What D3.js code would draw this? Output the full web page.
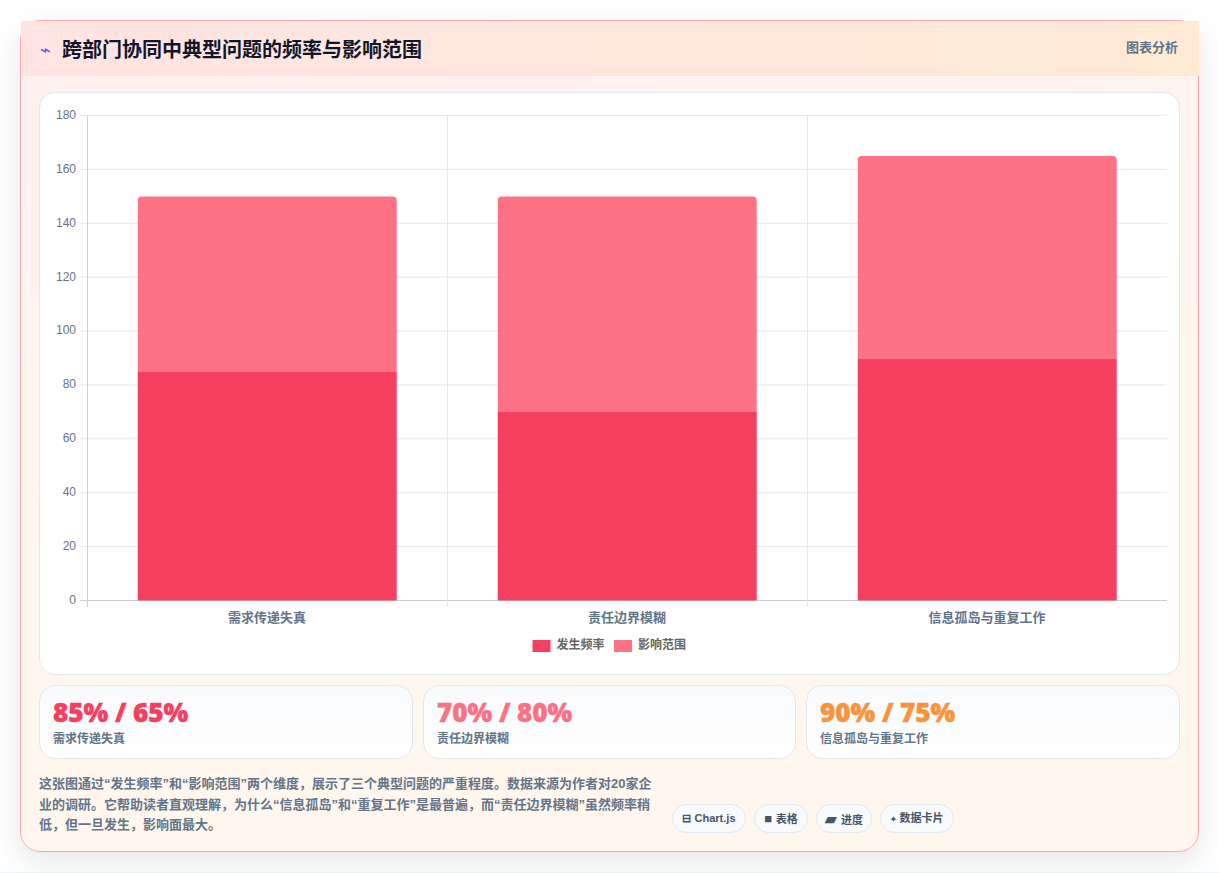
<!DOCTYPE html>
<html lang="zh"><head><meta charset="utf-8">
<script src="https://cdn.jsdelivr.net/npm/d3@7"></script>
<style>
html,body{margin:0;padding:0;width:1219px;height:873px;overflow:hidden;background:linear-gradient(#fff 0,#fff 872px,#f1f5f9 872px);font-family:"Liberation Sans","Noto Sans CJK SC",sans-serif;font-weight:700}
*{box-sizing:border-box}
.card{position:absolute;left:20px;top:20px;width:1179px;height:832px;border:1px solid #f5a9ae;border-radius:20px;background:linear-gradient(170deg,#fff0f1 0%,#fff7ed 60%);box-shadow:0 10px 30px rgba(15,23,42,.10)}
.head{position:absolute;left:0;top:0;width:1178px;height:55px;background:linear-gradient(90deg,#ffe4e3,#ffead5);border-bottom:1px solid #f1e6e8}
.title{position:absolute;left:41px;top:15px;font-size:20px;line-height:28px;color:#0f172a;white-space:nowrap}
.bolt{position:absolute;left:19px;top:18px;font-size:18px;line-height:22px;color:#4f5fe5;font-weight:400}
.tag{position:absolute;right:21px;top:18px;font-size:13px;line-height:18px;color:#64748b}
.plot{position:absolute;left:18px;top:71px;width:1141px;height:583px;background:#fff;border:1px solid #e2e8f0;border-radius:16px}
svg{position:absolute;left:-1px;top:-1px}
.stat{position:absolute;top:664px;height:74px;border:1px solid #e2e8f0;border-radius:16px;background:linear-gradient(#f8fafc,#fff)}
.num{position:absolute;left:13px;top:9px;font:800 26px/34px "Open Sans",sans-serif;-webkit-text-stroke:.5px;white-space:nowrap}
.lab{position:absolute;left:13px;top:44px;font-size:12px;line-height:18px;color:#64748b;white-space:nowrap}
.desc{position:absolute;left:18px;top:753px;width:618px;font-size:13px;line-height:20.6px;color:#64748b}
.chip{position:absolute;top:783px;height:29px;border:1px solid #e2e8f0;border-radius:15px;background:#f8fafc;font-size:11px;line-height:27px;color:#475569;white-space:nowrap;text-align:center}
</style></head><body>
<div class="card">
 <div class="head"><span class="bolt" id="bolt"></span><div class="title" id="title"></div><div class="tag" id="tag"></div></div>
 <div class="plot" id="plot"></div>
 <div id="stats"></div>
 <div class="desc" id="desc"></div>
 <div id="chips"></div>
</div>
<script>
const titleText="跨部门协同中典型问题的频率与影响范围";
const tagText="图表分析";
const categories=["需求传递失真","责任边界模糊","信息孤岛与重复工作"];
const seriesNames=["发生频率","影响范围"];
const frequency=[85,70,90];
const scope=[65,80,75];
const seriesColors=["#f43f5e","#fe7286"];
const statColors=["#f43f5e","#fb7185","#fb923c"];
const yTicks=[0,20,40,60,80,100,120,140,160,180];
const descText="这张图通过“发生频率”和“影响范围”两个维度，展示了三个典型问题的严重程度。数据来源为作者对20家企业的调研。它帮助读者直观理解，为什么“信息孤岛”和“重复工作”是最普遍，而“责任边界模糊”虽然频率稍低，但一旦发生，影响面最大。";
const chipIcons=["⊟","■","▰","✦"];
const chipLabels=["Chart.js","表格","进度","数据卡片"];
const chipIconSize=[11,13,15,8];
const chipLeft=[651,733,795,859];
const chipWidth=[74,54,56,74];

d3.select("#bolt").text("⌁");
d3.select("#title").text(titleText);
d3.select("#tag").text(tagText);
d3.select("#desc").text(descText);
const chip=d3.select("#chips").selectAll("div").data(chipLabels).join("div").attr("class","chip")
 .style("left",(d,i)=>chipLeft[i]+"px").style("width",(d,i)=>chipWidth[i]+"px");
chip.append("span").style("font-size",(d,i)=>chipIconSize[i]+"px").text((d,i)=>chipIcons[i]+" ");
chip.append("span").text(d=>d);

const statLeft=[18,402,785],statW=[374,373,374];
const st=d3.select("#stats").selectAll("div").data(categories).join("div").attr("class","stat")
  .style("left",(d,i)=>statLeft[i]+"px").style("width",(d,i)=>statW[i]+"px");
st.append("div").attr("class","num").style("color",(d,i)=>statColors[i]).text((d,i)=>`${frequency[i]}% / ${scope[i]}%`);
st.append("div").attr("class","lab").text(d=>d);

const W=1141,H=583,ox=39,oy=92;
const svg=d3.select("#plot").append("svg").attr("width",W).attr("height",H);
const x=d3.scaleBand().domain(categories).range([87-ox,1167-ox]);
const y=d3.scaleLinear().domain([0,180]).range([600-oy,115-oy]);
const g=svg.append("g");
const gridC="#e2e8f0",axisC="#cbd0d8";
g.append("g").attr("transform",`translate(${x.range()[0]},0)`)
 .call(d3.axisLeft(y).tickValues(yTicks).tickSize(-(x.range()[1]-x.range()[0])).tickSizeOuter(0))
 .call(a=>{a.select(".domain").remove();
   a.selectAll(".tick line").attr("stroke",d=>d===0?axisC:gridC).attr("x1",-7);
   a.selectAll("text").attr("x",-11).attr("dy","0.28em").attr("fill","#64748b").style("font","400 12px 'Liberation Sans'");});
const vx=categories.map(c=>x(c));
g.append("g").selectAll("line").data(vx).join("line")
 .attr("x1",d=>Math.round(d)+.5).attr("x2",d=>Math.round(d)+.5)
 .attr("y1",y(180)).attr("y2",y(0)+7).attr("stroke",(d,i)=>i===0?axisC:gridC);
const xa=g.append("g").attr("transform",`translate(0,${y(0)})`)
 .call(d3.axisBottom(x).tickSize(0).tickPadding(13));
xa.select(".domain").remove();
xa.selectAll("text").attr("fill","#64748b").style("font","700 13px 'Liberation Sans','Noto Sans CJK SC'");
const barW=259;
const bx=c=>x(c)+x.bandwidth()/2-barW/2+.2;
const split=v=>Math.round(y(v)+1);
const bars=svg.append("g");
bars.selectAll("rect.f").data(categories).join("rect").attr("class","f")
 .attr("x",bx).attr("width",barW).attr("y",(c,i)=>split(frequency[i])).attr("height",(c,i)=>y(0)+.5-split(frequency[i]))
 .attr("fill",seriesColors[0]);
const r=4;
bars.selectAll("path.s").data(categories).join("path").attr("class","s").attr("fill",seriesColors[1])
 .attr("d",(c,i)=>{const x0=bx(c),x1=x0+barW,t=y(frequency[i]+scope[i])+.6,b=split(frequency[i]);
   const p=d3.path();p.moveTo(x0,b);p.lineTo(x0,t+r);p.arcTo(x0,t,x0+r,t,r);p.lineTo(x1-r,t);p.arcTo(x1,t,x1,t+r,r);p.lineTo(x1,b);p.closePath();return p.toString();});
const lx=[532.5-ox,614-ox];
const lg=svg.append("g").selectAll("g").data(seriesNames).join("g").attr("transform",(d,i)=>`translate(${lx[i]},${640-oy})`);
lg.append("rect").attr("width",18).attr("height",12).attr("fill",(d,i)=>seriesColors[i]);
lg.append("text").attr("x",24).attr("y",9).attr("fill","#666").style("font","700 12px 'Liberation Sans','Noto Sans CJK SC'").text(d=>d);
</script>
</body></html>
